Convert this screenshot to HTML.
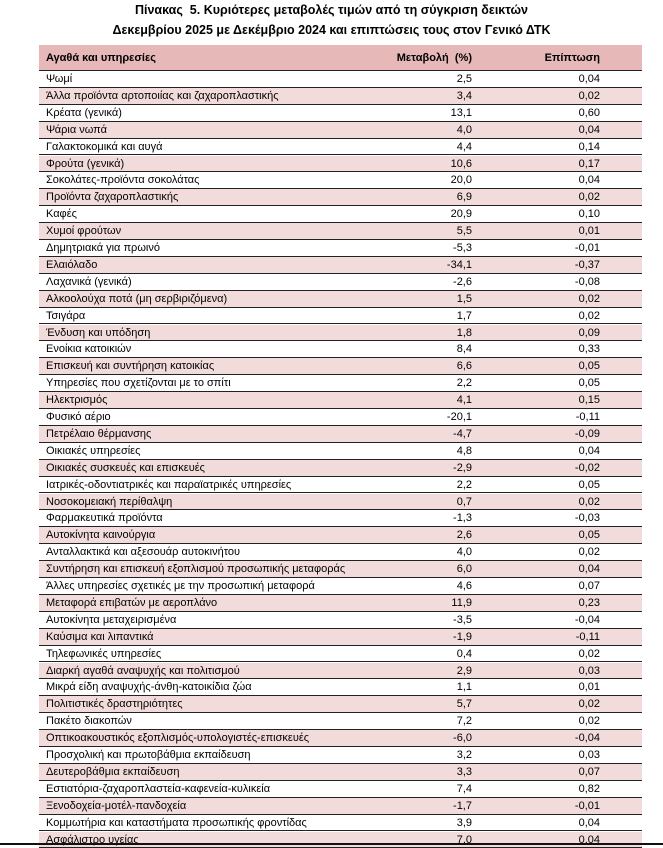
<!DOCTYPE html>
<html><head><meta charset="utf-8">
<style>
body{margin:0;background:#fff;width:663px;height:845px;overflow:hidden;position:relative;font-family:"Liberation Sans","DejaVu Sans",sans-serif;color:#000}
.t{position:absolute;left:0;width:663px;text-align:center;font-weight:bold;font-size:12.5px}
#tbl{position:absolute;left:39px;top:45px;width:603px}
.r{position:absolute;left:0;width:603px;height:16.9px;border-bottom:1px solid #222;box-sizing:border-box;font-size:11px;line-height:16px}
.r span{position:absolute;white-space:nowrap}
.c1{left:7px}.c2{right:170px}.c3{right:42px}
.h{background:#e6b8b7;font-weight:bold;height:26px;line-height:26px;top:0}
.p{background:#f2dcdb}
#band{position:absolute;left:0;top:843px;width:663px;height:2px;background:#111}
</style></head><body>
<div class="t" style="top:3px">Πίνακας &nbsp;5. Κυριότερες μεταβολές τιμών από τη σύγκριση δεικτών</div>
<div class="t" style="top:23px">Δεκεμβρίου 2025 με Δεκέμβριο 2024 και επιπτώσεις τους στον Γενικό ΔΤΚ</div>
<div id="tbl">
<div class="r h"><span class="c1">Αγαθά και υπηρεσίες</span><span class="c2">Μεταβολή &nbsp;(%)</span><span class="c3">Επίπτωση</span></div>
</div>
<div id="band"></div>
<script>
const items=["Ψωμί","Άλλα προϊόντα αρτοποιίας και ζαχαροπλαστικής","Κρέατα  (γενικά)","Ψάρια νωπά","Γαλακτοκομικά και αυγά","Φρούτα (γενικά)","Σοκολάτες-προϊόντα σοκολάτας","Προϊόντα ζαχαροπλαστικής","Καφές","Χυμοί φρούτων","Δημητριακά για πρωινό","Ελαιόλαδο","Λαχανικά (γενικά)","Αλκοολούχα ποτά (μη σερβιριζόμενα)","Τσιγάρα","Ένδυση και υπόδηση","Ενοίκια κατοικιών","Επισκευή και συντήρηση κατοικίας","Υπηρεσίες που σχετίζονται με το σπίτι","Ηλεκτρισμός","Φυσικό αέριο","Πετρέλαιο θέρμανσης","Οικιακές υπηρεσίες","Οικιακές συσκευές και επισκευές","Ιατρικές-οδοντιατρικές και παραϊατρικές υπηρεσίες","Νοσοκομειακή περίθαλψη","Φαρμακευτικά προϊόντα","Αυτοκίνητα καινούργια","Ανταλλακτικά και αξεσουάρ αυτοκινήτου","Συντήρηση και επισκευή εξοπλισμού προσωπικής μεταφοράς","Άλλες υπηρεσίες σχετικές με την προσωπική μεταφορά","Μεταφορά επιβατών με αεροπλάνο","Αυτοκίνητα μεταχειρισμένα","Καύσιμα και λιπαντικά","Τηλεφωνικές υπηρεσίες","Διαρκή αγαθά αναψυχής και πολιτισμού","Μικρά είδη αναψυχής-άνθη-κατοικίδια ζώα","Πολιτιστικές δραστηριότητες","Πακέτο διακοπών","Οπτικοακουστικός εξοπλισμός-υπολογιστές-επισκευές","Προσχολική και πρωτοβάθμια εκπαίδευση","Δευτεροβάθμια εκπαίδευση","Εστιατόρια-ζαχαροπλαστεία-καφενεία-κυλικεία","Ξενοδοχεία-μοτέλ-πανδοχεία","Κομμωτήρια και καταστήματα προσωπικής φροντίδας","Ασφάλιστρο υγείας"];
const changes=["2,5","3,4","13,1","4,0","4,4","10,6","20,0","6,9","20,9","5,5","-5,3","-34,1","-2,6","1,5","1,7","1,8","8,4","6,6","2,2","4,1","-20,1","-4,7","4,8","-2,9","2,2","0,7","-1,3","2,6","4,0","6,0","4,6","11,9","-3,5","-1,9","0,4","2,9","1,1","5,7","7,2","-6,0","3,2","3,3","7,4","-1,7","3,9","7,0"];
const impacts=["0,04","0,02","0,60","0,04","0,14","0,17","0,04","0,02","0,10","0,01","-0,01","-0,37","-0,08","0,02","0,02","0,09","0,33","0,05","0,05","0,15","-0,11","-0,09","0,04","-0,02","0,05","0,02","-0,03","0,05","0,02","0,04","0,07","0,23","-0,04","-0,11","0,02","0,03","0,01","0,02","0,02","-0,04","0,03","0,07","0,82","-0,01","0,04","0,04"];
const tbl=document.getElementById('tbl');
items.forEach((name,i)=>{
  const r=document.createElement('div');
  r.className='r'+(i%2?' p':'');
  r.style.top=(26+i*16.9)+'px';
  
  
  r.innerHTML='<span class="c1"></span><span class="c2"></span><span class="c3"></span>';
  r.children[0].textContent=name;
  r.children[1].textContent=changes[i];
  r.children[2].textContent=impacts[i];
  tbl.appendChild(r);
});
</script>
</body></html>
